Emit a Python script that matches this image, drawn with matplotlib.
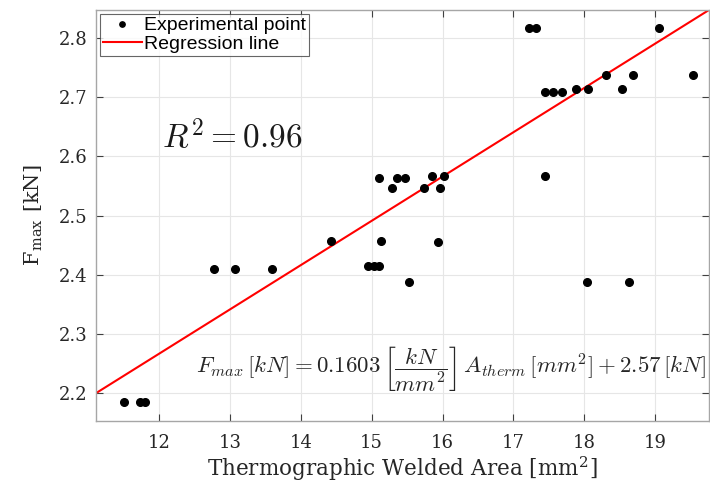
import matplotlib
matplotlib.use("Agg")
import matplotlib.pyplot as plt
import numpy as np

# thermographic welded area [mm^2] and max force [kN]
area = [11.50, 11.73, 11.80, 12.78, 13.07, 13.59, 14.42, 14.95, 15.03, 15.10,
        15.13, 15.11, 15.29, 15.36, 15.47, 15.53, 15.74, 15.85, 15.94, 15.96,
        16.02, 17.22, 17.32, 17.44, 17.45, 17.56, 17.69, 17.89, 18.04, 18.05,
        18.31, 18.53, 18.63, 18.69, 19.05, 19.53]
fmax = [2.185, 2.185, 2.185, 2.410, 2.410, 2.410, 2.457, 2.415, 2.415, 2.415,
        2.457, 2.564, 2.547, 2.564, 2.564, 2.388, 2.547, 2.567, 2.456, 2.547,
        2.567, 2.816, 2.816, 2.709, 2.567, 2.709, 2.709, 2.713, 2.388, 2.713,
        2.737, 2.713, 2.388, 2.737, 2.816, 2.737]

# regression line as drawn
reg_slope = 0.0748
reg_intercept = 1.369

x_ticks = [12, 13, 14, 15, 16, 17, 18, 19]
y_ticks = [2.2, 2.3, 2.4, 2.5, 2.6, 2.7, 2.8]
xlim = (11.11, 19.76)
ylim = (2.153, 2.847)

plt.rcParams["mathtext.fontset"] = "cm"
serif = "DejaVu Serif"

fig = plt.figure(figsize=(7.1, 4.9), dpi=100)
ax = fig.add_axes([96 / 710, 69 / 490, 613 / 710, 411 / 490])

xs = np.array(xlim)
ax.plot(area, fmax, "o", color="black", ms=5.5, label="Experimental point", zorder=3)
ax.plot(xs, reg_intercept + reg_slope * xs, color="red", lw=1.5,
        label="Regression line", zorder=2)

ax.set_xlim(*xlim)
ax.set_ylim(*ylim)
ax.set_xticks(x_ticks)
ax.set_yticks(y_ticks)
ax.set_xticklabels([str(t) for t in x_ticks], family=serif, fontsize=13, color="#262626")
ax.set_yticklabels([f"{t:.1f}" for t in y_ticks], family=serif, fontsize=13, color="#262626")
ax.tick_params(direction="in", top=True, right=True, length=5, width=0.8,
               color="#404040", pad=6)
ax.tick_params(axis="x", pad=9)
ax.grid(True, color="#e6e6e6", lw=0.8)
ax.set_axisbelow(True)
for s in ax.spines.values():
    s.set_color("#a6a6a6")
    s.set_linewidth(1.0)

ax.set_xlabel(r"Thermographic Welded Area [mm$^\mathregular{2}$]", family=serif,
              fontsize=15.5, color="#262626", labelpad=2)
ax.set_ylabel(r"F$_\mathregular{max}$ [kN]", family=serif, fontsize=15,
              color="#262626", labelpad=10)

ax.text(13.03, 2.632, r"$R^2 = 0.96$", fontsize=24, ha="center", va="center", color="#1a1a1a")
ax.text(19.72, 2.24,
        r"$F_{max}\,[kN] = 0.1603\,\left[\dfrac{kN}{mm^2}\right]\,A_{therm}\,[mm^2] + 2.57\,[kN]$",
        fontsize=16.5, ha="right", va="center", color="#262626")

leg = ax.legend(loc="upper left", frameon=True, fancybox=False,
                edgecolor="#404040", borderpad=0.15, handlelength=2.0,
                handletextpad=0.1, labelspacing=0.05, borderaxespad=0.2,
                markerscale=0.7,
                prop={"family": "Liberation Sans", "size": 14})
leg.get_frame().set_linewidth(0.8)

fig.savefig("out.png", dpi=100)
